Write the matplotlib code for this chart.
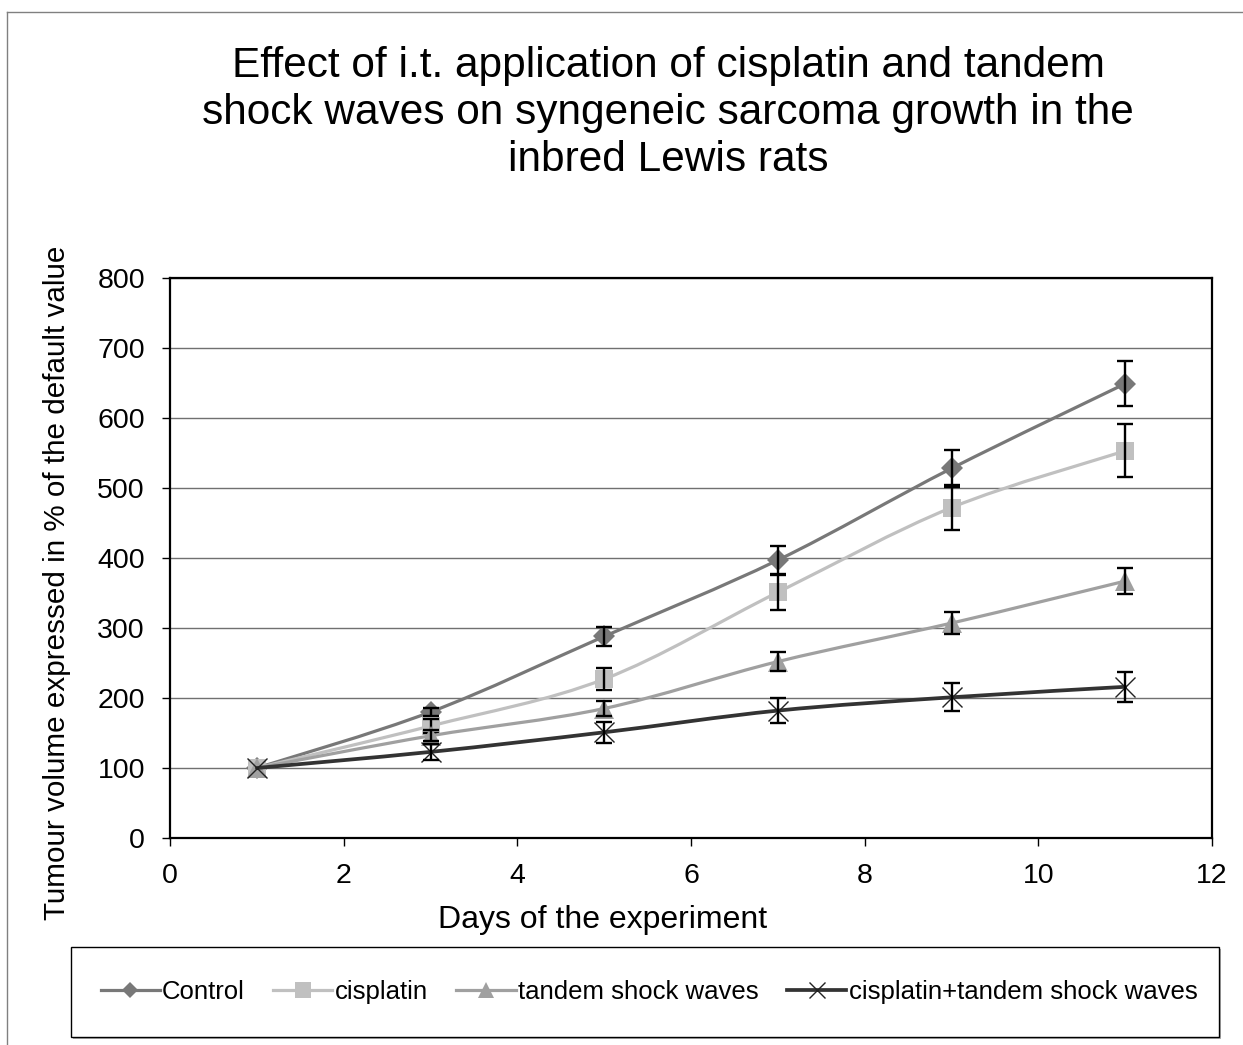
import numpy as np
import matplotlib
matplotlib.use('Agg')
import matplotlib.pyplot as plt
from matplotlib.path import Path
from matplotlib.patches import PathPatch, Rectangle
from matplotlib.lines import Line2D

plt.rcParams['font.family'] = ['Liberation Sans', 'DejaVu Sans']

days = [1, 3, 5, 7, 9, 11]
control = [100, 180, 288, 397, 528, 649]
control_err = [0, 6, 14, 20, 26, 32]
cisplatin = [100, 160, 227, 351, 472, 553]
cisplatin_err = [0, 10, 16, 25, 32, 38]
tandem = [100, 146, 185, 252, 307, 367]
tandem_err = [0, 8, 11, 14, 16, 19]
combo = [100, 123, 151, 182, 201, 216]
combo_err = [0, 11, 15, 18, 20, 21]

labels = ['Control', 'cisplatin', 'tandem shock waves', 'cisplatin+tandem shock waves']
title = 'Effect of i.t. application of cisplatin and tandem\nshock waves on syngeneic sarcoma growth in the\ninbred Lewis rats'

W, H = 1243, 1045


def smooth_path(x, y):
	# excel style smoothed line: cubic bezier through the points
	pts = np.column_stack([x, y]).astype(float)
	verts = [pts[0]]
	codes = [Path.MOVETO]
	n = len(pts)
	for i in range(n - 1):
		p0 = pts[max(i - 1, 0)]
		p1 = pts[i]
		p2 = pts[i + 1]
		p3 = pts[min(i + 2, n - 1)]
		verts += [p1 + (p2 - p0) / 6, p2 - (p3 - p1) / 6, p2]
		codes += [Path.CURVE4] * 3
	return Path(verts, codes)


def draw_series(ax, y, err, color, marker, ms, lw, z, mec=None, mew=0):
	ax.add_patch(PathPatch(smooth_path(days, y), fill=False, edgecolor=color, lw=lw, zorder=z,
		capstyle='round', joinstyle='round'))
	ax.plot(days, y, linestyle='none', marker=marker, ms=ms, mfc=color,
		mec=mec or color, mew=mew, zorder=z + 0.1)
	xe = [d for d, e in zip(days, err) if e > 0]
	ye = [v for v, e in zip(y, err) if e > 0]
	ee = [e for e in err if e > 0]
	ax.errorbar(xe, ye, yerr=ee, fmt='none', ecolor='black', elinewidth=1.7,
		capsize=6, capthick=1.7, zorder=z + 0.2)


fig = plt.figure(figsize=(W / 100, H / 100), dpi=100)
ax = fig.add_axes([170 / W, 1 - 838 / H, (1212 - 170) / W, (838 - 278) / H])

draw_series(ax, control, control_err, '#787878', 'D', 11, 2.3, 3)
draw_series(ax, cisplatin, cisplatin_err, '#c0c0c0', 's', 13.5, 2.3, 4)
draw_series(ax, tandem, tandem_err, '#a0a0a0', '^', 14, 2.3, 5)
draw_series(ax, combo, combo_err, '#333333', 'x', 15, 2.7, 6, mec='#222222', mew=1)

ax.set_xlim(0, 12)
ax.set_ylim(0, 800)
ax.set_xticks(range(0, 13, 2))
ax.set_yticks(range(0, 801, 100))
ax.grid(axis='y', color='#707070', lw=1)
ax.set_axisbelow(True)
for s in ax.spines.values():
	s.set_linewidth(1.6)
	s.set_color('black')
ax.tick_params(labelsize=20.5, length=6, width=1, direction='out', pad=12)

fig.text(668 / W, 1 - 113 / H, title, ha='center', va='center', fontsize=30.5, linespacing=1.24)
fig.text(603 / W, 1 - 920 / H, 'Days of the experiment', ha='center', va='center', fontsize=23)
fig.text(57 / W, 1 - 583 / H, 'Tumour volume expressed in % of the default value', ha='center',
	va='center', rotation=90, fontsize=21.3)

fig.add_artist(Line2D([7 / W, 7 / W], [0, 1 - 12 / H], color='#808080', lw=1))
fig.add_artist(Line2D([7 / W, 1], [1 - 12 / H, 1 - 12 / H], color='#808080', lw=1))

fig.add_artist(Rectangle((73 / W, 1 - 1039 / H), (1221 - 73) / W, 90 / H, transform=fig.transFigure,
	facecolor='#b0b0b0', edgecolor='none'))
fig.add_artist(Rectangle((71 / W, 1 - 1037 / H), (1219 - 71) / W, 90 / H, transform=fig.transFigure,
	facecolor='white', edgecolor='black', lw=1))

handles = [
	Line2D([], [], color='#787878', lw=2.3, marker='D', ms=8, mew=0),
	Line2D([], [], color='#c0c0c0', lw=2.3, marker='s', ms=11, mew=0),
	Line2D([], [], color='#a0a0a0', lw=2.3, marker='^', ms=11, mew=0),
	Line2D([], [], color='#333333', lw=2.7, marker='x', ms=12, mec='#222222', mew=1),
]
fig.legend(handles, labels, loc='center', bbox_to_anchor=(649 / W, 1 - 992 / H), ncol=4, frameon=False,
	fontsize=18.5, handlelength=2.3, handletextpad=0.1, columnspacing=1.1)

fig.savefig('out.png', dpi=100)
